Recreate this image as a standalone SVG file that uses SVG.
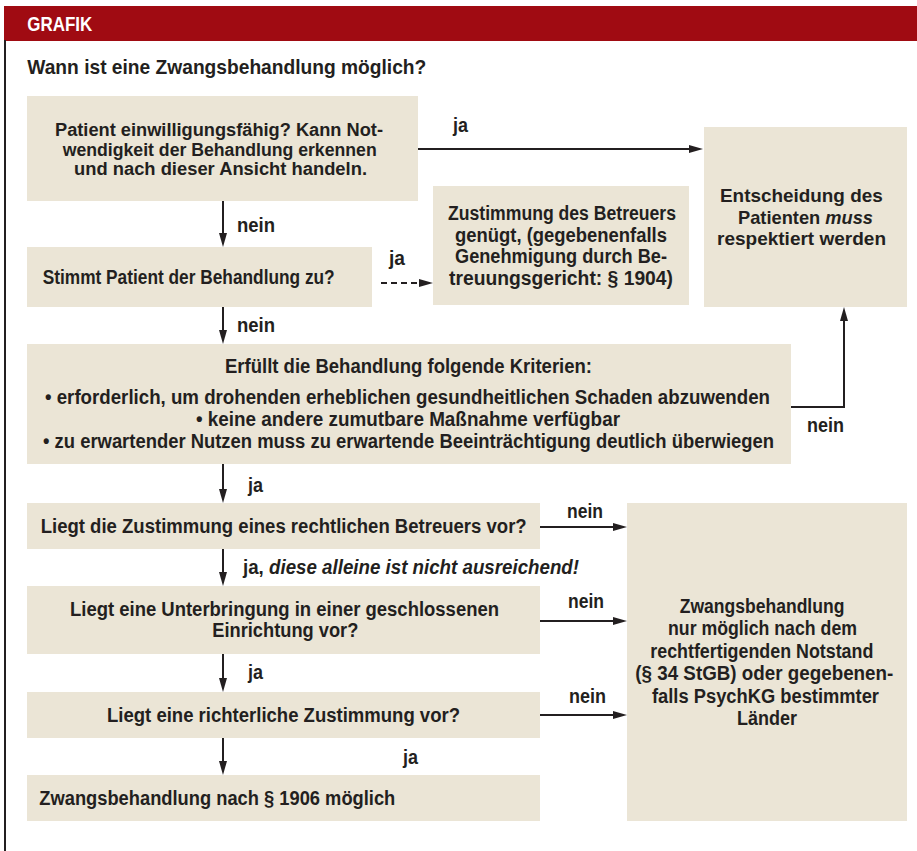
<svg xmlns="http://www.w3.org/2000/svg" width="917" height="851" viewBox="0 0 917 851">
<defs>
<marker id="ah" viewBox="0 0 14 8" refX="8" refY="4" markerWidth="14" markerHeight="8" markerUnits="userSpaceOnUse" orient="auto">
<path d="M0,0 L14,4 L0,8 Z" fill="#231f20"/>
</marker>
<style>
.box{fill:#ebe5d6;}
.t{font-family:"Liberation Sans Narrow","Liberation Sans",Arial,sans-serif;font-weight:bold;font-size:19.5px;fill:#231f20;}
.s{font-size:18px;}
.m{font-size:18.5px;}
.lbl{font-family:"Liberation Sans Narrow","Liberation Sans",Arial,sans-serif;font-weight:bold;font-size:19.5px;fill:#231f20;}
.it{font-style:italic;}
.c{stroke:#231f20;stroke-width:2;fill:none;marker-end:url(#ah);}
.d{stroke-dasharray:6 4;}
</style>
</defs>
<rect width="917" height="851" fill="#ffffff"/>
<g id="header">
<rect x="4" y="6" width="913" height="35" fill="#a00b12"/>
<text x="27.3" y="31" class="t" style="font-size:19.5px;font-weight:900;fill:#ffffff" textLength="65" lengthAdjust="spacingAndGlyphs">GRAFIK</text>
</g>
<rect x="4" y="40" width="2" height="811" fill="#231f20"/>
<text id="title" x="27.3" y="73.5" class="t" style="font-size:21px" textLength="399" lengthAdjust="spacingAndGlyphs">Wann ist eine Zwangsbehandlung möglich?</text>

<g id="connectors">
<line class="c" x1="418" y1="149" x2="697" y2="149"/>
<line class="c" x1="223" y1="201" x2="223" y2="241"/>
<line class="c d" x1="381" y1="283" x2="427" y2="283"/>
<line class="c" x1="223" y1="307" x2="223" y2="338"/>
<polyline class="c" points="791,407 844,407 844,313"/>
<line class="c" x1="223" y1="464" x2="223" y2="497"/>
<line class="c" x1="540" y1="527" x2="621" y2="527"/>
<line class="c" x1="223" y1="549" x2="223" y2="580"/>
<line class="c" x1="540" y1="621" x2="621" y2="621"/>
<line class="c" x1="223" y1="654" x2="223" y2="686"/>
<line class="c" x1="540" y1="715" x2="621" y2="715"/>
<line class="c" x1="223" y1="738" x2="223" y2="769"/>
<text class="lbl" x="453" y="131.5" textLength="15" lengthAdjust="spacingAndGlyphs">ja</text>
<text class="lbl" x="237" y="231.5" textLength="38" lengthAdjust="spacingAndGlyphs">nein</text>
<text class="lbl" x="389" y="264.5" textLength="16" lengthAdjust="spacingAndGlyphs">ja</text>
<text class="lbl" x="237" y="331.5" textLength="38" lengthAdjust="spacingAndGlyphs">nein</text>
<text class="lbl" x="807" y="431.5" textLength="37" lengthAdjust="spacingAndGlyphs">nein</text>
<text class="lbl" x="248" y="491.5" textLength="15" lengthAdjust="spacingAndGlyphs">ja</text>
<text class="lbl" x="567" y="517.5" textLength="36" lengthAdjust="spacingAndGlyphs">nein</text>
<text class="lbl" x="243" y="573.5" textLength="336" lengthAdjust="spacingAndGlyphs">ja, <tspan class="it">diese alleine ist nicht ausreichend!</tspan></text>
<text class="lbl" x="568" y="607.5" textLength="36" lengthAdjust="spacingAndGlyphs">nein</text>
<text class="lbl" x="248" y="678.5" textLength="15" lengthAdjust="spacingAndGlyphs">ja</text>
<text class="lbl" x="569" y="702.5" textLength="37" lengthAdjust="spacingAndGlyphs">nein</text>
<text class="lbl" x="403" y="763.5" textLength="15" lengthAdjust="spacingAndGlyphs">ja</text>
</g>

<g id="n1">
<rect class="box" x="27" y="96" width="391" height="105"/>
<text class="t s" x="55" y="136" textLength="328" lengthAdjust="spacingAndGlyphs">Patient einwilligungsfähig? Kann Not-</text>
<text class="t s" x="62.7" y="155.5" textLength="314" lengthAdjust="spacingAndGlyphs">wendigkeit der Behandlung erkennen</text>
<text class="t s" x="74" y="175" textLength="293" lengthAdjust="spacingAndGlyphs">und nach dieser Ansicht handeln.</text>
</g>
<g id="n2">
<rect class="box" x="27" y="247" width="345" height="60"/>
<text class="t" x="42.7" y="283.5" textLength="292" lengthAdjust="spacingAndGlyphs">Stimmt Patient der Behandlung zu?</text>
</g>
<g id="n3">
<rect class="box" x="433" y="186" width="256" height="119"/>
<text class="t" x="448" y="219.5" textLength="228" lengthAdjust="spacingAndGlyphs">Zustimmung des Betreuers</text>
<text class="t" x="455" y="241.5" textLength="212" lengthAdjust="spacingAndGlyphs">genügt, (gegebenenfalls</text>
<text class="t" x="455" y="262.5" textLength="212" lengthAdjust="spacingAndGlyphs">Genehmigung durch Be-</text>
<text class="t" x="449" y="284.5" textLength="224" lengthAdjust="spacingAndGlyphs">treuungsgericht: § 1904)</text>
</g>
<g id="n4">
<rect class="box" x="704" y="127" width="203" height="180"/>
<text class="t m" x="720" y="202" textLength="162.7" lengthAdjust="spacingAndGlyphs">Entscheidung des</text>
<text class="t m" x="738" y="223.5" textLength="135" lengthAdjust="spacingAndGlyphs">Patienten <tspan class="it">muss</tspan></text>
<text class="t m" x="717" y="245" textLength="169" lengthAdjust="spacingAndGlyphs">respektiert werden</text>
</g>
<g id="n5">
<rect class="box" x="27" y="344" width="764" height="120"/>
<text class="t" x="225" y="372.5" textLength="367" lengthAdjust="spacingAndGlyphs">Erfüllt die Behandlung folgende Kriterien:</text>
<text class="t" x="45" y="403.5" textLength="725" lengthAdjust="spacingAndGlyphs">• erforderlich, um drohenden erheblichen gesundheitlichen Schaden abzuwenden</text>
<text class="t" x="196" y="425.5" textLength="424" lengthAdjust="spacingAndGlyphs">• keine andere zumutbare Maßnahme verfügbar</text>
<text class="t" x="43" y="447.5" textLength="731" lengthAdjust="spacingAndGlyphs">• zu erwartender Nutzen muss zu erwartende Beeinträchtigung deutlich überwiegen</text>
</g>
<g id="n6">
<rect class="box" x="27" y="503" width="513" height="46"/>
<text class="t" x="40.7" y="532.5" textLength="486" lengthAdjust="spacingAndGlyphs">Liegt die Zustimmung eines rechtlichen Betreuers vor?</text>
</g>
<g id="n7">
<rect class="box" x="27" y="586" width="513" height="68"/>
<text class="t" x="70" y="616" textLength="429" lengthAdjust="spacingAndGlyphs">Liegt eine Unterbringung in einer geschlossenen</text>
<text class="t" x="212.3" y="637" textLength="146" lengthAdjust="spacingAndGlyphs">Einrichtung vor?</text>
</g>
<g id="n8">
<rect class="box" x="27" y="692" width="513" height="46"/>
<text class="t" x="107" y="721.5" textLength="353" lengthAdjust="spacingAndGlyphs">Liegt eine richterliche Zustimmung vor?</text>
</g>
<g id="n9">
<rect class="box" x="27" y="775" width="513" height="46"/>
<text class="t" x="39.3" y="804.5" textLength="356" lengthAdjust="spacingAndGlyphs">Zwangsbehandlung nach § 1906 möglich</text>
</g>
<g id="n10">
<rect class="box" x="627" y="503" width="280" height="318"/>
<text class="t" x="679.7" y="612.5" textLength="164.7" lengthAdjust="spacingAndGlyphs">Zwangsbehandlung</text>
<text class="t" x="668" y="635" textLength="189" lengthAdjust="spacingAndGlyphs">nur möglich nach dem</text>
<text class="t" x="650.3" y="657.5" textLength="223" lengthAdjust="spacingAndGlyphs">rechtfertigenden Notstand</text>
<text class="t" x="635.3" y="680" textLength="258" lengthAdjust="spacingAndGlyphs">(§ 34 StGB) oder gegebenen-</text>
<text class="t" x="652" y="702.5" textLength="227" lengthAdjust="spacingAndGlyphs">falls PsychKG bestimmter</text>
<text class="t" x="737" y="725" textLength="60" lengthAdjust="spacingAndGlyphs">Länder</text>
</g>
</svg>
